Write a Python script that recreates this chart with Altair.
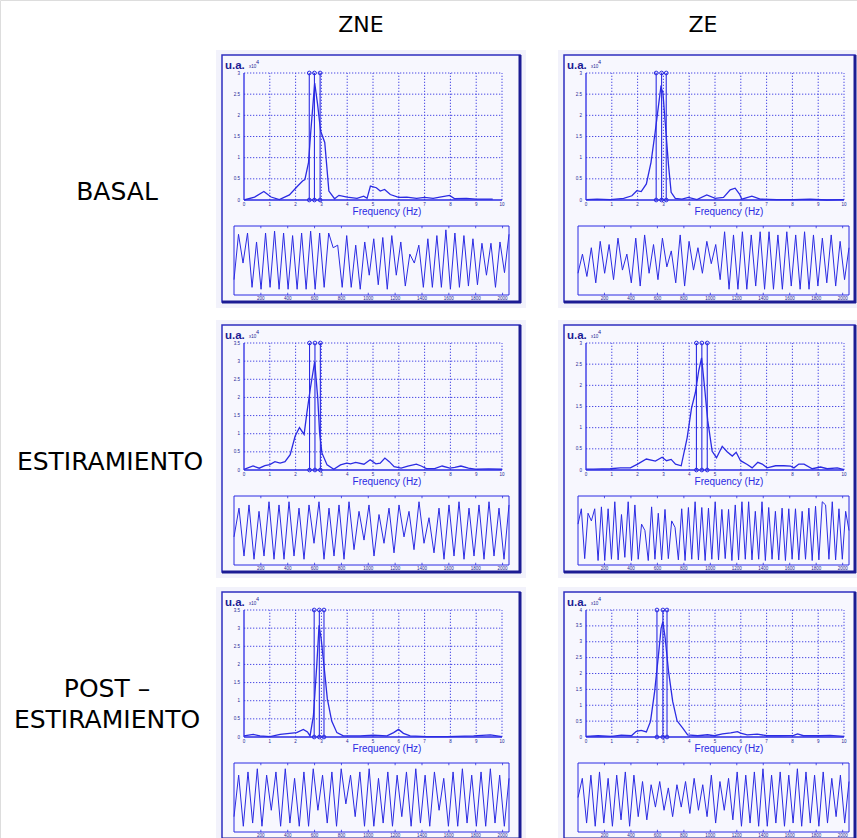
import altair as alt
import pandas as pd

# ---------------------------------------------------------------
# Power spectra: frequency (Hz) and amplitude (u.a.)
# ---------------------------------------------------------------
ZNE_BASAL_FREQ = [0, 0.41, 0.77, 1.05, 1.37, 1.76, 2.08, 2.27, 2.36, 2.5,
                  2.59, 2.74, 2.85, 2.97, 3.13, 3.29, 3.51, 3.68, 4.0, 4.38,
                  4.64, 4.77, 4.9, 5.13, 5.28, 5.45, 5.67, 5.99, 6.31, 6.69,
                  7.0, 7.33, 7.59, 7.97, 8.17, 8.62, 9.0, 9.64]
ZNE_BASAL_AMP = [0, 0.07, 0.20, 0.07, 0.01, 0.12, 0.33, 0.45, 0.48, 0.88,
                 1.63, 2.76, 2.27, 1.63, 1.36, 0.21, 0.03, 0.11, 0.07, 0.04,
                 0.09, 0.04, 0.33, 0.29, 0.21, 0.25, 0.13, 0.06, 0.07, 0.04,
                 0.06, 0.04, 0.07, 0.11, 0.03, 0.04, 0.02, 0.02]

ZE_BASAL_FREQ = [0, 0.43, 0.94, 1.46, 1.78, 1.97, 2.14, 2.34, 2.52, 2.68,
                 2.81, 2.9, 2.98, 3.07, 3.2, 3.3, 3.46, 3.72, 3.97, 4.3,
                 4.68, 5.01, 5.33, 5.59, 5.78, 5.95, 6.04, 6.43, 6.75, 7.39,
                 8.04, 8.68, 9.33, 10]
ZE_BASAL_AMP = [0.01, 0.02, 0.01, 0.04, 0.1, 0.22, 0.2, 0.38, 0.89, 1.6,
                2.23, 2.66, 2.54, 1.83, 0.81, 0.18, 0.04, 0.02, 0.06, 0.01,
                0.12, 0.04, 0.06, 0.24, 0.28, 0.14, 0.02, 0.09, 0.02, 0.01,
                0.01, 0.02, 0.0, 0.01]

ZNE_STRETCH_FREQ = [0, 0.35, 0.59, 0.81, 1.0, 1.2, 1.4, 1.59, 1.79, 1.98,
                    2.15, 2.33, 2.44, 2.57, 2.74, 2.86, 2.93, 3.02, 3.22, 3.48,
                    3.74, 3.98, 4.13, 4.33, 4.65, 4.89, 5.11, 5.28, 5.46, 5.63,
                    5.82, 6.09, 6.35, 6.68, 6.87, 7.07, 7.39, 7.68, 7.98, 8.17,
                    8.41, 8.7, 9.02, 9.48, 10]
ZNE_STRETCH_AMP = [0.02, 0.11, 0.05, 0.12, 0.15, 0.23, 0.19, 0.23, 0.42, 0.93,
                   1.17, 0.98, 1.59, 2.24, 2.99, 1.96, 1.03, 0.47, 0.14, 0.02,
                   0.14, 0.19, 0.17, 0.21, 0.16, 0.28, 0.17, 0.19, 0.33, 0.23,
                   0.09, 0.05, 0.11, 0.16, 0.11, 0.04, 0.04, 0.11, 0.05, 0.07,
                   0.11, 0.05, 0.02, 0.03, 0.02]

ZE_STRETCH_FREQ = [0, 0.3, 0.94, 1.33, 1.72, 2.0, 2.34, 2.69, 2.95, 3.12,
                   3.3, 3.47, 3.69, 3.92, 4.09, 4.24, 4.37, 4.48, 4.59, 4.72,
                   4.89, 5.06, 5.28, 5.47, 5.67, 5.82, 5.99, 6.25, 6.44, 6.66,
                   6.83, 7.02, 7.35, 7.67, 7.93, 8.06, 8.25, 8.45, 8.77, 9.09,
                   9.35, 9.74, 10]
ZE_STRETCH_AMP = [0.02, 0.02, 0.03, 0.05, 0.05, 0.14, 0.26, 0.21, 0.3, 0.22,
                  0.25, 0.14, 0.1, 0.76, 1.46, 1.83, 2.35, 2.65, 1.99, 1.16,
                  0.44, 0.29, 0.56, 0.43, 0.33, 0.42, 0.22, 0.13, 0.05, 0.18,
                  0.14, 0.05, 0.1, 0.1, 0.09, 0.05, 0.14, 0.14, 0.03, 0.07,
                  0.03, 0.05, 0.01]

ZNE_POST_FREQ = [0, 0.36, 0.62, 1.01, 1.4, 2.04, 2.3, 2.46, 2.56, 2.69,
                 2.82, 2.91, 2.99, 3.1, 3.23, 3.4, 3.6, 3.85, 4.5, 5.02,
                 5.54, 5.8, 5.99, 6.18, 6.44, 7.09, 7.87, 8.9, 9.55, 10]
ZNE_POST_AMP = [0.03, 0.07, 0.03, 0.01, 0.07, 0.12, 0.21, 0.14, 0.03, 0.58,
                1.97, 3.08, 2.71, 1.97, 1.05, 0.44, 0.12, 0.03, 0.03, 0.05,
                0.03, 0.12, 0.21, 0.1, 0.03, 0.01, 0.01, 0.03, 0.06, 0.01]

ZE_POST_FREQ = [0, 0.47, 0.99, 1.37, 1.76, 1.95, 2.14, 2.34, 2.5, 2.66,
                2.81, 2.91, 2.98, 3.07, 3.2, 3.36, 3.53, 3.75, 3.94, 4.33,
                4.71, 4.97, 5.29, 5.61, 5.87, 5.99, 6.25, 6.64, 7.02, 7.53,
                8.05, 8.2, 8.43, 9.08, 9.46, 10]
ZE_POST_AMP = [0.02, 0.04, 0.02, 0.06, 0.04, 0.18, 0.21, 0.16, 0.49, 1.43,
               2.59, 3.42, 3.63, 3.11, 2.06, 1.12, 0.51, 0.28, 0.07, 0.04,
               0.07, 0.04, 0.1, 0.13, 0.17, 0.12, 0.07, 0.09, 0.04, 0.04,
               0.05, 0.1, 0.04, 0.04, 0.05, 0.02]

# Peak-band cursors (Hz)
ZNE_BASAL_MARKS = [2.53, 2.73, 2.95]
ZE_BASAL_MARKS = [2.72, 2.93, 3.11]
ZNE_STRETCH_MARKS = [2.54, 2.75, 2.96]
ZE_STRETCH_MARKS = [4.28, 4.49, 4.70]
ZNE_POST_MARKS = [2.72, 2.92, 3.10]
ZE_POST_MARKS = [2.75, 2.98, 3.14]

# Upper limit of each amplitude axis (u.a.)
ZNE_BASAL_TOP = 3.0
ZE_BASAL_TOP = 3.0
ZNE_STRETCH_TOP = 3.5
ZE_STRETCH_TOP = 3.0
ZNE_POST_TOP = 3.5
ZE_POST_TOP = 4.0

# Raw traces (normalised amplitude, evenly spread over the record)
ZNE_BASAL_SIGNAL = [0.2, 0.91, 0.46, 0.93, 0.08, 0.79, 0.05, 0.93, 0.08, 0.96,
                    0.05, 0.93, 0.05, 0.89, 0.05, 0.93, 0.05, 0.96, 0.05, 0.93,
                    0.08, 0.93, 0.7, 0.74, 0.08, 0.89, 0.08, 0.74, 0.05, 0.79,
                    0.27, 0.84, 0.12, 0.86, 0.05, 0.89, 0.27, 0.79, 0.1, 0.6,
                    0.46, 0.74, 0.08, 0.84, 0.08, 0.89, 0.08, 0.98, 0.05, 0.93,
                    0.08, 0.89, 0.1, 0.84, 0.12, 0.77, 0.27, 0.77, 0.08, 0.79,
                    0.31, 0.91]
ZE_BASAL_SIGNAL = [0.3, 0.6, 0.25, 0.7, 0.15, 0.8, 0.3, 0.75, 0.2, 0.85,
                   0.35, 0.6, 0.15, 0.85, 0.1, 0.9, 0.3, 0.75, 0.2, 0.85,
                   0.4, 0.65, 0.15, 0.9, 0.1, 0.8, 0.35, 0.7, 0.3, 0.8,
                   0.45, 0.75, 0.2, 0.95, 0.05, 0.9, 0.05, 0.95, 0.05, 0.9,
                   0.1, 0.95, 0.05, 0.95, 0.05, 0.9, 0.05, 0.95, 0.1, 0.9,
                   0.05, 0.95, 0.05, 0.9, 0.1, 0.85, 0.15, 0.9, 0.1, 0.8,
                   0.2, 0.7]
ZNE_STRETCH_SIGNAL = [0.4, 0.85, 0.1, 0.9, 0.05, 0.8, 0.1, 0.95, 0.05, 0.9,
                      0.05, 0.95, 0.1, 0.85, 0.05, 0.9, 0.3, 0.95, 0.05, 0.85,
                      0.1, 0.9, 0.05, 0.95, 0.2, 0.8, 0.35, 0.9, 0.1, 0.75,
                      0.3, 0.85, 0.15, 0.9, 0.4, 0.8, 0.2, 0.95, 0.3, 0.7,
                      0.15, 0.85, 0.05, 0.9, 0.1, 0.95, 0.05, 0.85, 0.1, 0.9,
                      0.05, 0.95, 0.1, 0.85, 0.05, 0.9]
ZE_STRETCH_SIGNAL = [0.6, 0.84, 0.06, 0.77, 0.65, 0.84, 0.03, 0.87, 0.03, 0.84,
                     0.05, 0.95, 0.04, 0.75, 0.08, 0.95, 0.03, 0.9, 0.05, 0.6,
                     0.5, 0.03, 0.87, 0.05, 0.77, 0.04, 0.83, 0.06, 0.65, 0.55,
                     0.04, 0.84, 0.03, 0.86, 0.05, 0.95, 0.04, 0.86, 0.03, 0.85,
                     0.05, 0.95, 0.04, 0.83, 0.06, 0.83, 0.03, 0.9, 0.04, 0.95,
                     0.05, 0.95, 0.04, 0.8, 0.05, 0.95, 0.03, 0.86, 0.05, 0.8,
                     0.04, 0.85, 0.03, 0.84, 0.05, 0.84, 0.04, 0.8, 0.05, 0.85,
                     0.03, 0.88, 0.04, 0.95, 0.9, 0.05, 0.95, 0.04, 0.84, 0.05,
                     0.8, 0.5]
ZNE_POST_SIGNAL = [0.2, 0.85, 0.05, 0.9, 0.1, 0.95, 0.05, 0.85, 0.3, 0.9,
                   0.05, 0.95, 0.1, 0.8, 0.05, 0.9, 0.05, 0.95, 0.3, 0.85,
                   0.1, 0.9, 0.05, 0.95, 0.4, 0.85, 0.2, 0.9, 0.05, 0.95,
                   0.05, 0.8, 0.1, 0.9, 0.05, 0.85, 0.2, 0.9, 0.05, 0.95,
                   0.1, 0.85, 0.05, 0.9, 0.3, 0.8, 0.05, 0.9, 0.05, 0.95,
                   0.1, 0.85, 0.05, 0.9, 0.05, 0.95, 0.1, 0.85, 0.05, 0.8]
ZE_POST_SIGNAL = [0.5, 0.8, 0.1, 0.85, 0.05, 0.9, 0.1, 0.8, 0.05, 0.85,
                  0.15, 0.9, 0.05, 0.85, 0.2, 0.75, 0.15, 0.7, 0.35, 0.75,
                  0.3, 0.65, 0.2, 0.7, 0.35, 0.75, 0.25, 0.8, 0.3, 0.7,
                  0.2, 0.85, 0.1, 0.75, 0.3, 0.8, 0.15, 0.9, 0.05, 0.85,
                  0.1, 0.9, 0.05, 0.95, 0.05, 0.85, 0.1, 0.9, 0.05, 0.85,
                  0.1, 0.95, 0.05, 0.9, 0.1, 0.85, 0.05, 0.9, 0.1, 0.8,
                  0.2, 0.85, 0.1, 0.75]

COLUMN_TITLES = ["ZNE", "ZE"]
ROW_TITLES = [["BASAL"], ["ESTIRAMIENTO"], ["POST –", "ESTIRAMIENTO"]]
FREQ_TICKS = [0, 1, 2, 3, 4, 5, 6, 7, 8, 9, 10]
SAMPLE_TICKS = [200, 400, 600, 800, 1000, 1200, 1400, 1600, 1800, 2000]
N_SAMPLES = 2048
FREQ_LABEL = "Frequency (Hz)"
UNIT_LABEL = "u.a."

PANELS = [
    [dict(freq=ZNE_BASAL_FREQ, amp=ZNE_BASAL_AMP, top=ZNE_BASAL_TOP,
          marks=ZNE_BASAL_MARKS, signal=ZNE_BASAL_SIGNAL),
     dict(freq=ZE_BASAL_FREQ, amp=ZE_BASAL_AMP, top=ZE_BASAL_TOP,
          marks=ZE_BASAL_MARKS, signal=ZE_BASAL_SIGNAL)],
    [dict(freq=ZNE_STRETCH_FREQ, amp=ZNE_STRETCH_AMP, top=ZNE_STRETCH_TOP,
          marks=ZNE_STRETCH_MARKS, signal=ZNE_STRETCH_SIGNAL),
     dict(freq=ZE_STRETCH_FREQ, amp=ZE_STRETCH_AMP, top=ZE_STRETCH_TOP,
          marks=ZE_STRETCH_MARKS, signal=ZE_STRETCH_SIGNAL)],
    [dict(freq=ZNE_POST_FREQ, amp=ZNE_POST_AMP, top=ZNE_POST_TOP,
          marks=ZNE_POST_MARKS, signal=ZNE_POST_SIGNAL),
     dict(freq=ZE_POST_FREQ, amp=ZE_POST_AMP, top=ZE_POST_TOP,
          marks=ZE_POST_MARKS, signal=ZE_POST_SIGNAL)],
]

# ---------------------------------------------------------------
# Page layout (pixels)
# ---------------------------------------------------------------
W, H = 857, 838
COLS = [
    dict(frame=(222, 520), spec=(244, 502), sig=(234, 509), title_x=361),
    dict(frame=(564, 855), spec=(586, 844), sig=(578, 849), title_x=703),
]
ROWS = [
    dict(top=55, label_x=117, label_y=[192]),
    dict(top=325, label_x=110, label_y=[462]),
    dict(top=592, label_x=107, label_y=[689, 720]),
]
TITLE_Y = 25

BLUE = "#2b2be3"
GRID = "#4a4ae4"
NAVY = "#1c1c94"
FRAME = "#2f2fc0"
PANEL_BG = "#f7f7fe"
HALO = "#f2f2fb"
LABEL_FONT = "DejaVu Sans"
PLOT_FONT = "Liberation Sans"

ONE = pd.DataFrame({"k": [0]})


def text_at(s, x, y, size, color="black", font=LABEL_FONT, align="center",
            baseline="middle", weight="normal"):
    return alt.Chart(ONE).mark_text(
        text=s, fontSize=size, color=color, font=font, align=align,
        baseline=baseline, fontWeight=weight,
    ).encode(x=alt.value(x), y=alt.value(y))


def box(x0, y0, x1, y1, fill, stroke, sw):
    return alt.Chart(ONE).mark_rect(
        fill=fill, stroke=stroke, strokeWidth=sw
    ).encode(x=alt.value(x0), x2=alt.value(x1), y=alt.value(y0), y2=alt.value(y1))


def hline(x0, x1, y, color, sw):
    return alt.Chart(ONE).mark_rule(color=color, strokeWidth=sw).encode(
        x=alt.value(x0), x2=alt.value(x1), y=alt.value(y))


def vline(x, y0, y1, color, sw):
    return alt.Chart(ONE).mark_rule(color=color, strokeWidth=sw).encode(
        x=alt.value(x), y=alt.value(y0), y2=alt.value(y1))


def spectrum(p, x0, x1, y0, y1):
    top = p["top"]
    xs = alt.Scale(domain=[0, 10], range=[x0, x1], nice=False, zero=False)
    ys = alt.Scale(domain=[0, top], range=[y1, y0], nice=False, zero=False)

    def X(f):
        return alt.X(f, type="quantitative", scale=xs, axis=None)

    def Y(f):
        return alt.Y(f, type="quantitative", scale=ys, axis=None)

    y_ticks = [i * 0.5 for i in range(int(round(top / 0.5)) + 1)]
    dash = dict(color=GRID, strokeDash=[1.3, 1.7], strokeWidth=1)

    vgrid = alt.Chart(pd.DataFrame({"f": FREQ_TICKS[1:], "lo": 0.0, "hi": top})
                      ).mark_rule(**dash).encode(x=X("f"), y=Y("lo"), y2="hi")
    hgrid = alt.Chart(pd.DataFrame({"a": y_ticks[1:], "lo": 0.0, "hi": 10.0})
                      ).mark_rule(**dash).encode(y=Y("a"), x=X("lo"), x2="hi")
    axes = alt.Chart(pd.DataFrame({"xa": [0, 0], "ya": [0, 0],
                                   "xb": [0, 10], "yb": [top, 0]})
                     ).mark_rule(color=BLUE, strokeWidth=1.3).encode(
        x=X("xa"), y=Y("ya"), x2="xb", y2="yb")

    xlab = alt.Chart(pd.DataFrame({"f": FREQ_TICKS, "z": 0.0,
                                   "t": [str(v) for v in FREQ_TICKS]})
                     ).mark_text(fontSize=4.5, color=NAVY, dy=5, font=PLOT_FONT
                                 ).encode(x=X("f"), y=Y("z"), text="t:N")
    ylab = alt.Chart(pd.DataFrame({"a": y_ticks, "z": 0.0,
                                   "t": [f"{v:g}" for v in y_ticks]})
                     ).mark_text(fontSize=4.5, color=NAVY, dx=-4, dy=0.5,
                                 align="right", font=PLOT_FONT
                                 ).encode(x=X("z"), y=Y("a"), text="t:N")

    curve = alt.Chart(pd.DataFrame({"f": p["freq"], "a": p["amp"]})
                      ).mark_line(color=BLUE, strokeWidth=1.3).encode(x=X("f"), y=Y("a"))

    cur = pd.DataFrame({"f": p["marks"], "lo": 0.0, "hi": top})
    cursors = alt.Chart(cur).mark_rule(color=BLUE, strokeWidth=1.1).encode(
        x=X("f"), y=Y("lo"), y2="hi")
    ends = pd.DataFrame({"f": p["marks"] * 2,
                         "a": [0.0] * len(p["marks"]) + [top] * len(p["marks"])})
    rings = alt.Chart(ends).mark_point(shape="circle", filled=False, size=14,
                                       color=BLUE, strokeWidth=1, opacity=1
                                       ).encode(x=X("f"), y=Y("a"))

    return alt.layer(vgrid, hgrid, axes, xlab, ylab, curve, cursors, rings)


def trace(vals, x0, x1, y0, y1):
    n = len(vals)
    lo, hi = -0.04, 1.04
    xs = alt.Scale(domain=[0, N_SAMPLES], range=[x0, x1], nice=False, zero=False)
    ys = alt.Scale(domain=[lo, hi], range=[y1, y0], nice=False, zero=False)

    def X(f):
        return alt.X(f, type="quantitative", scale=xs, axis=None)

    def Y(f):
        return alt.Y(f, type="quantitative", scale=ys, axis=None)

    df = pd.DataFrame({"s": [i * N_SAMPLES / (n - 1) for i in range(n)], "v": vals})
    frame = alt.Chart(pd.DataFrame({"a": [0], "b": [N_SAMPLES], "c": [lo], "d": [hi]})
                      ).mark_rect(fill="transparent", stroke=BLUE, strokeWidth=1
                                  ).encode(x=X("a"), x2="b", y=Y("c"), y2="d")
    tk = pd.DataFrame({"s": SAMPLE_TICKS, "c": lo, "d": lo + 0.035,
                       "e": hi - 0.035, "f": hi,
                       "t": [str(v) for v in SAMPLE_TICKS]})
    ticks_b = alt.Chart(tk).mark_rule(color=BLUE, strokeWidth=0.8).encode(
        x=X("s"), y=Y("c"), y2="d")
    ticks_t = alt.Chart(tk).mark_rule(color=BLUE, strokeWidth=0.8).encode(
        x=X("s"), y=Y("e"), y2="f")
    labels = alt.Chart(tk).mark_text(fontSize=4.5, color=NAVY, dy=3.5,
                                     font=PLOT_FONT).encode(
        x=X("s"), y=Y("c"), text="t:N")
    line = alt.Chart(df).mark_line(color=BLUE, strokeWidth=1).encode(
        x=X("s"), y=Y("v"))
    return alt.layer(frame, ticks_b, ticks_t, labels, line)


layers = []

# Panel backgrounds
for r, row in enumerate(ROWS):
    for c, col in enumerate(COLS):
        fx0, fx1 = col["frame"]
        ty = row["top"]
        layers.append(box(fx0 - 6, ty - 5, min(fx1 + 6, W), ty + 253, HALO, HALO, 0))
        layers.append(box(fx0, ty, fx1, ty + 247, PANEL_BG, FRAME, 1.5))
        layers.append(hline(fx0, fx1 + 1, ty + 247, NAVY, 3))
        layers.append(vline(fx1, ty, ty + 248, NAVY, 3))

# Spectra, traces and panel texts
for r, row in enumerate(ROWS):
    for c, col in enumerate(COLS):
        p = PANELS[r][c]
        ty = row["top"]
        sx0, sx1 = col["spec"]
        gx0, gx1 = col["sig"]
        layers.append(spectrum(p, sx0, sx1, ty + 18, ty + 145))
        layers.append(trace(p["signal"], gx0, gx1, ty + 171, ty + 240))
        fx0 = col["frame"][0]
        layers.append(text_at(UNIT_LABEL, fx0 + 3, ty + 13.5, 11.5, color=NAVY,
                              font=PLOT_FONT, align="left", baseline="alphabetic",
                              weight="bold"))
        layers.append(text_at("x10", fx0 + 27, ty + 13, 4.5, color=NAVY,
                              font=PLOT_FONT, align="left", baseline="alphabetic"))
        layers.append(text_at("4", fx0 + 34, ty + 9, 5.5, color=NAVY,
                              font=PLOT_FONT, align="left", baseline="alphabetic"))
        layers.append(text_at(FREQ_LABEL, (sx0 + sx1) / 2 + 14, ty + 157, 10,
                              color=BLUE, font=PLOT_FONT))

# Column and row titles
for c, col in enumerate(COLS):
    layers.append(text_at(COLUMN_TITLES[c], col["title_x"], TITLE_Y, 22))
for r, row in enumerate(ROWS):
    for line_text, ly in zip(ROW_TITLES[r], row["label_y"]):
        layers.append(text_at(line_text, row["label_x"], ly, 25))

chart = (
    alt.layer(*layers)
    .resolve_scale(x="independent", y="independent")
    .properties(width=W, height=H, padding=0,
                autosize=alt.AutoSizeParams(type="none"))
    .configure_view(stroke=None)
    .configure(background="white")
)

chart.save("out.html", embed_options={"renderer": "svg", "actions": False})
